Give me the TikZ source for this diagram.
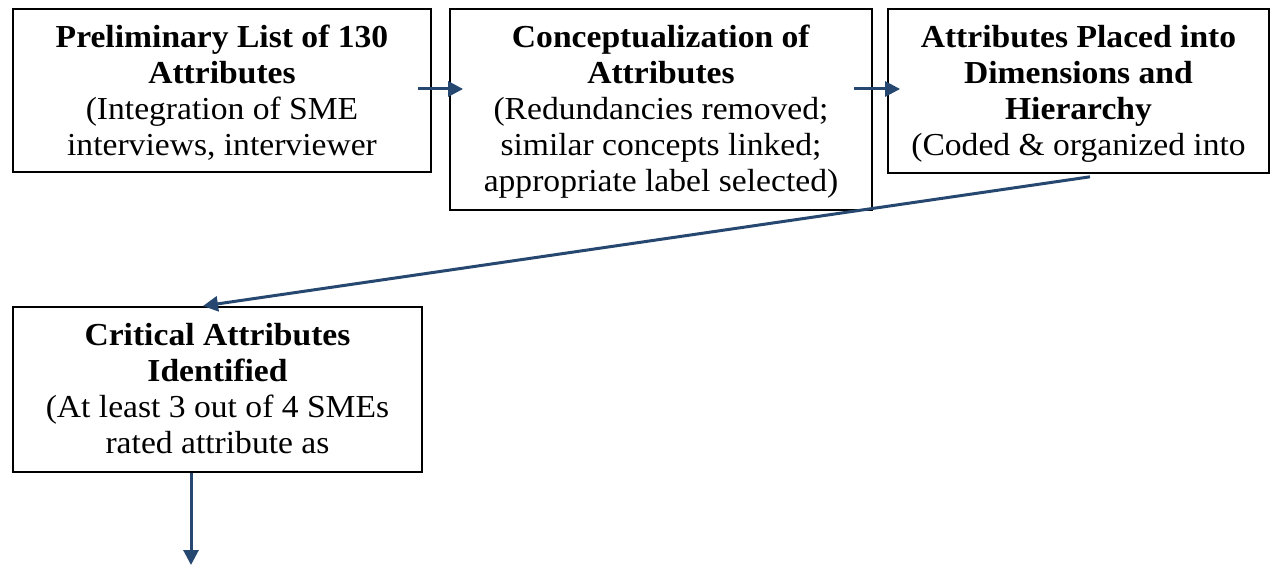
\documentclass[tikz,border=0pt]{standalone}
\usepackage{fontspec}
\setmainfont[FakeStretch=1.05]{Liberation Serif}
\usetikzlibrary{arrows.meta}
\definecolor{arrowblue}{HTML}{264870}
\tikzset{
	stage/.style={draw, line width=1.8pt, align=center, inner sep=0pt, anchor=north,
		font=\fontsize{32}{36}\selectfont},
	flow/.style={draw=arrowblue, line width=3pt, -{Triangle[length=15pt,width=15pt]}}
}
\begin{document}
\begin{tikzpicture}[x=1pt, y=-1pt]
	\useasboundingbox (0,0) rectangle (1272,567);
	\node [stage, minimum width=418pt, text height=147pt, text depth=16pt] (prelim) at (222,8)
		{\textbf{Preliminary List of 130}\\ \textbf{Attributes}\\ (Integration of SME\\ interviews, interviewer};
	\node [stage, minimum width=422pt, text height=183pt, text depth=18pt] (concept) at (661,8)
		{\textbf{Conceptualization of}\\ \textbf{Attributes}\\ (Redundancies removed;\\ similar concepts linked;\\ appropriate label selected)};
	\node [stage, minimum width=381pt, text height=147pt, text depth=17pt] (dims) at (1078.5,8)
		{\textbf{Attributes Placed into}\\ \textbf{Dimensions and}\\ \textbf{Hierarchy}\\ (Coded \& organized into};
	\node [stage, minimum width=409pt, text height=147pt, text depth=18pt] (critical) at (217.5,306)
		{\textbf{Critical Attributes}\\ \textbf{Identified}\\ (At least 3 out of 4 SMEs\\ rated attribute as};
	\coordinate (next) at (191,565);
	% arrows between the stages
	\draw [flow] ([xshift=-14pt,yshift=-81pt]prelim.north east) -- ([xshift=14pt,yshift=-81pt]concept.north west);
	\draw [flow] ([xshift=-19pt,yshift=-81pt]concept.north east) -- ([xshift=13pt,yshift=-81pt]dims.north west);
	\draw [flow] ([xshift=11.5pt,yshift=-3pt]dims.south) -- ([xshift=-14.5pt]critical.north);
	\draw [flow] (critical.south -| next) -- (next);
\end{tikzpicture}
\end{document}
